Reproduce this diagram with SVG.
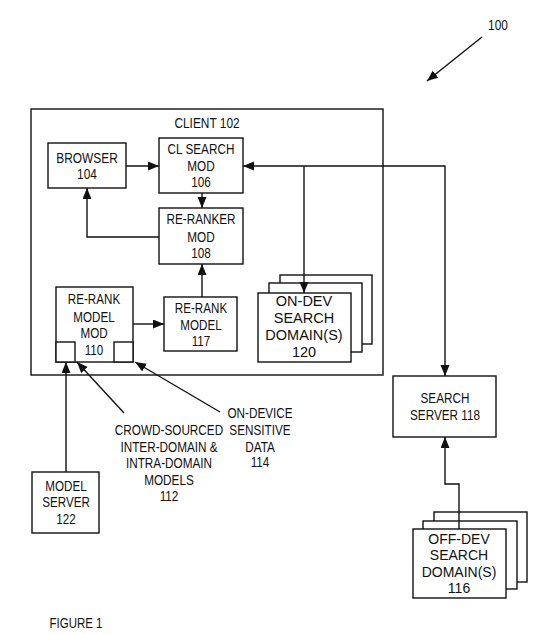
<svg xmlns="http://www.w3.org/2000/svg" width="540" height="634" viewBox="0 0 540 634">
<style>
.b{fill:#fff;stroke:#111;stroke-width:1.4}
.c{fill:none;stroke:#111;stroke-width:1.4}
.t{font-family:"Liberation Sans",Arial,sans-serif;font-size:14px;fill:#111;text-anchor:middle}
</style>
<defs>
<marker id="a" markerUnits="userSpaceOnUse" markerWidth="12" markerHeight="10" refX="11" refY="4.5" orient="auto-start-reverse">
<path d="M0,0 L11,4.5 L0,9 z" fill="#111"/>
</marker>
</defs>
<rect width="540" height="634" fill="#fff"/>
<g id="client">
<rect class="b" x="31" y="109" width="352" height="266"/>
<text class="t" transform="translate(207,0) scale(0.85,1)"><tspan x="0" y="128">CLIENT 102</tspan></text>
</g>
<g id="browser">
<rect class="b" x="48" y="143" width="78" height="45"/>
<text class="t" transform="translate(87,0) scale(0.85,1)"><tspan x="0" y="163">BROWSER</tspan><tspan x="0" y="179">104</tspan></text>
</g>
<g id="clsearch">
<rect class="b" x="159" y="138" width="84" height="55"/>
<text class="t" transform="translate(201,0) scale(0.84,1)"><tspan x="0" y="154">CL SEARCH</tspan><tspan x="0" y="171">MOD</tspan><tspan x="0" y="187">106</tspan></text>
</g>
<g id="reranker">
<rect class="b" x="159" y="208" width="84" height="56"/>
<text class="t" transform="translate(201,0) scale(0.84,1)"><tspan x="0" y="224">RE-RANKER</tspan><tspan x="0" y="242">MOD</tspan><tspan x="0" y="258">108</tspan></text>
</g>
<g id="rerankmodelmod">
<rect class="b" x="56" y="287" width="77" height="75"/>
<rect class="b" x="56" y="342" width="19" height="20"/>
<rect class="b" x="114" y="342" width="19" height="20"/>
<text class="t" transform="translate(94,0) scale(0.83,1)"><tspan x="0" y="304">RE-RANK</tspan><tspan x="0" y="322">MODEL</tspan><tspan x="0" y="338">MOD</tspan><tspan x="0" y="355">110</tspan></text>
</g>
<g id="rerankmodel">
<rect class="b" x="164" y="297" width="73" height="54"/>
<text class="t" transform="translate(201,0) scale(0.83,1)"><tspan x="0" y="313">RE-RANK</tspan><tspan x="0" y="330">MODEL</tspan><tspan x="0" y="346">117</tspan></text>
</g>
<g id="ondev">
<rect class="b" x="280" y="275" width="92" height="69"/>
<rect class="b" x="269" y="283" width="93" height="69"/>
<rect class="b" x="258" y="293" width="93" height="69"/>
<text class="t" transform="translate(304,0)" style="font-size:14.5px"><tspan x="0" y="306">ON-DEV</tspan><tspan x="0" y="323">SEARCH</tspan><tspan x="0" y="340">DOMAIN(S)</tspan><tspan x="0" y="357">120</tspan></text>
</g>
<g id="searchserver">
<rect class="b" x="393" y="376" width="103" height="61"/>
<text class="t" transform="translate(445,0) scale(0.84,1)"><tspan x="0" y="403">SEARCH</tspan><tspan x="0" y="420">SERVER 118</tspan></text>
</g>
<g id="offdev">
<rect class="b" x="434" y="512" width="93" height="70"/>
<rect class="b" x="423" y="521" width="94" height="68"/>
<rect class="b" x="413" y="529" width="93" height="69"/>
<text class="t" transform="translate(459,0)"><tspan x="0" y="544">OFF-DEV</tspan><tspan x="0" y="560">SEARCH</tspan><tspan x="0" y="577">DOMAIN(S)</tspan><tspan x="0" y="593">116</tspan></text>
</g>
<g id="modelserver">
<rect class="b" x="32" y="472" width="67" height="61"/>
<text class="t" transform="translate(66,0) scale(0.83,1)"><tspan x="0" y="491">MODEL</tspan><tspan x="0" y="507">SERVER</tspan><tspan x="0" y="524">122</tspan></text>
</g>
<g id="labels">
<text class="t" transform="translate(169,0) scale(0.84,1)"><tspan x="0" y="435">CROWD-SOURCED</tspan><tspan x="0" y="452">INTER-DOMAIN &amp;</tspan><tspan x="0" y="468">INTRA-DOMAIN</tspan><tspan x="0" y="485">MODELS</tspan><tspan x="0" y="501">112</tspan></text>
<text class="t" transform="translate(260,0) scale(0.84,1)"><tspan x="0" y="418">ON-DEVICE</tspan><tspan x="0" y="435">SENSITIVE</tspan><tspan x="0" y="452">DATA</tspan><tspan x="0" y="467">114</tspan></text>
<text class="t" transform="translate(498,0) scale(0.85,1)"><tspan x="0" y="30">100</tspan></text>
<text class="t" transform="translate(76,0) scale(0.82,1)"><tspan x="0" y="628">FIGURE 1</tspan></text>
</g>
<g id="connectors">
<path class="c" d="M126,166 H159" marker-end="url(#a)"/>
<path class="c" d="M202,193 V208" marker-end="url(#a)"/>
<path class="c" d="M159,237 H87 V188" marker-end="url(#a)"/>
<path class="c" d="M133,324 H164" marker-end="url(#a)"/>
<path class="c" d="M202,297 V264" marker-end="url(#a)"/>
<path class="c" d="M445,376 V166 H243" marker-start="url(#a)" marker-end="url(#a)"/>
<path class="c" d="M304,166 V293" marker-end="url(#a)"/>
<path class="c" d="M459,529 V484 H445 V437" marker-end="url(#a)"/>
<path class="c" d="M66,472 V362" marker-end="url(#a)"/>
<path class="c" d="M124,413 L77,362" marker-end="url(#a)"/>
<path class="c" d="M220,412 L135,362" marker-end="url(#a)"/>
<path class="c" d="M482,37 L427,81" marker-end="url(#a)"/>
</g>
</svg>
